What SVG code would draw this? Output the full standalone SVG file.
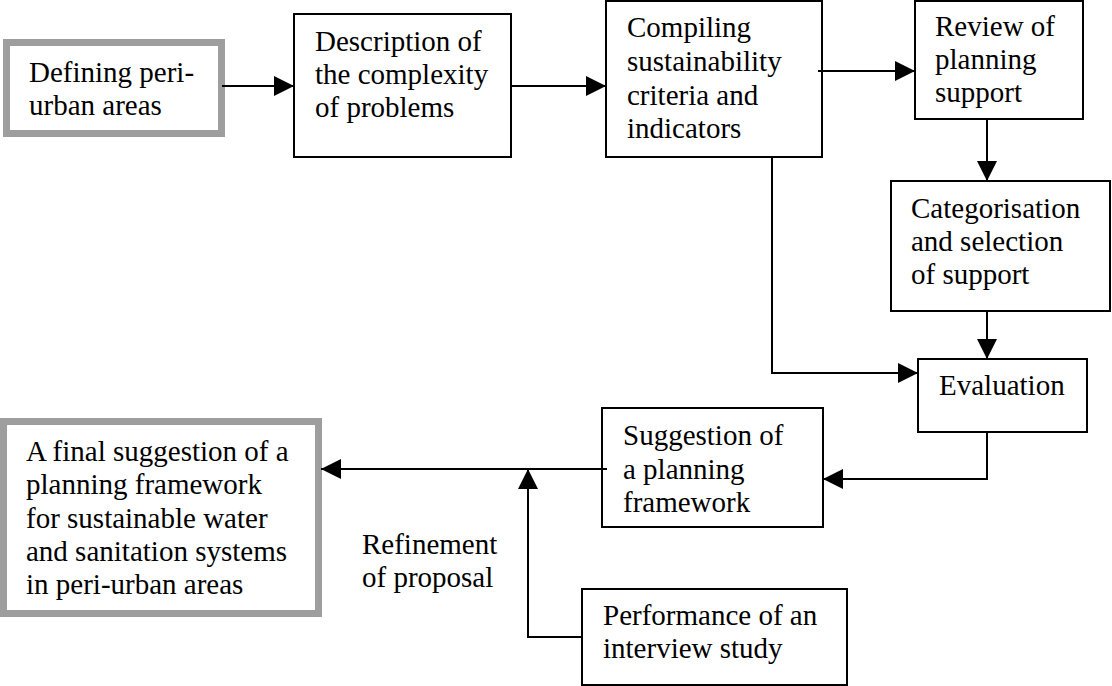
<svg xmlns="http://www.w3.org/2000/svg" width="1112" height="686" viewBox="0 0 1112 686">
  <style>
    .box { fill: #ffffff; stroke: #000000; stroke-width: 2; }
    .key { fill: #ffffff; stroke: #9e9e9e; stroke-width: 7; }
    .link { fill: none; stroke: #000000; stroke-width: 2; }
  </style>
  <defs>
    <marker id="arrow" markerUnits="userSpaceOnUse" markerWidth="20" markerHeight="20" refX="20" refY="10" orient="auto">
      <path d="M0,0 L20,10 L0,20 z" fill="#000000"/>
    </marker>
  </defs>
  <rect width="1112" height="686" fill="#ffffff"/>

  <!-- process steps -->
  <g font-family="Liberation Serif, Tinos, Times New Roman, DejaVu Serif, serif" font-size="29" fill="#000000">
    <g id="define">
      <rect class="key" x="6.5" y="42.5" width="215" height="91"/>
      <text x="29" y="82">Defining peri-</text>
      <text x="29" y="115">urban areas</text>
    </g>
    <g id="describe">
      <rect class="box" x="294" y="14" width="217" height="143"/>
      <text x="315" y="51">Description of</text>
      <text x="315" y="84">the complexity</text>
      <text x="315" y="117">of problems</text>
    </g>
    <g id="criteria">
      <rect class="box" x="606" y="1" width="216" height="156"/>
      <text x="627" y="37">Compiling</text>
      <text x="627" y="71">sustainability</text>
      <text x="627" y="105">criteria and</text>
      <text x="627" y="138">indicators</text>
    </g>
    <g id="review">
      <rect class="box" x="915" y="1" width="168" height="118"/>
      <text x="935" y="36">Review of</text>
      <text x="935" y="69">planning</text>
      <text x="935" y="102">support</text>
    </g>
    <g id="categorise">
      <rect class="box" x="891" y="181" width="219" height="130"/>
      <text x="911" y="218">Categorisation</text>
      <text x="911" y="251">and selection</text>
      <text x="911" y="284">of support</text>
    </g>
    <g id="evaluate">
      <rect class="box" x="918" y="359" width="169" height="73"/>
      <text x="939" y="395">Evaluation</text>
    </g>
    <g id="suggest">
      <rect class="box" x="602" y="408" width="221" height="119"/>
      <text x="623" y="445">Suggestion of</text>
      <text x="623" y="479">a planning</text>
      <text x="623" y="512">framework</text>
    </g>
    <g id="interview">
      <rect class="box" x="582" y="589" width="265" height="96"/>
      <text x="603" y="625">Performance of an</text>
      <text x="603" y="658">interview study</text>
    </g>
    <g id="final">
      <rect class="key" x="3.5" y="421.5" width="315" height="192"/>
      <text x="26" y="461">A final suggestion of a</text>
      <text x="26" y="494">planning framework</text>
      <text x="26" y="528">for sustainable water</text>
      <text x="26" y="561">and sanitation systems</text>
      <text x="26" y="594">in peri-urban areas</text>
    </g>
    <g id="refine-label">
      <text x="362" y="554">Refinement</text>
      <text x="362" y="587">of proposal</text>
    </g>
  </g>

  <!-- connectors -->
  <g id="connectors">
    <line class="link" x1="222" y1="86" x2="294" y2="86" marker-end="url(#arrow)"/>
    <line class="link" x1="511" y1="86" x2="606" y2="86" marker-end="url(#arrow)"/>
    <line class="link" x1="818" y1="71" x2="915" y2="71" marker-end="url(#arrow)"/>
    <line class="link" x1="987" y1="119" x2="987" y2="181" marker-end="url(#arrow)"/>
    <line class="link" x1="987" y1="311" x2="987" y2="359" marker-end="url(#arrow)"/>
    <polyline class="link" points="772,157 772,373 918,373" marker-end="url(#arrow)"/>
    <polyline class="link" points="987,432 987,479 823,479" marker-end="url(#arrow)"/>
    <line class="link" x1="607" y1="469" x2="321" y2="469" marker-end="url(#arrow)"/>
    <polyline class="link" points="582,637 528,637 528,469" marker-end="url(#arrow)"/>
  </g>
</svg>
